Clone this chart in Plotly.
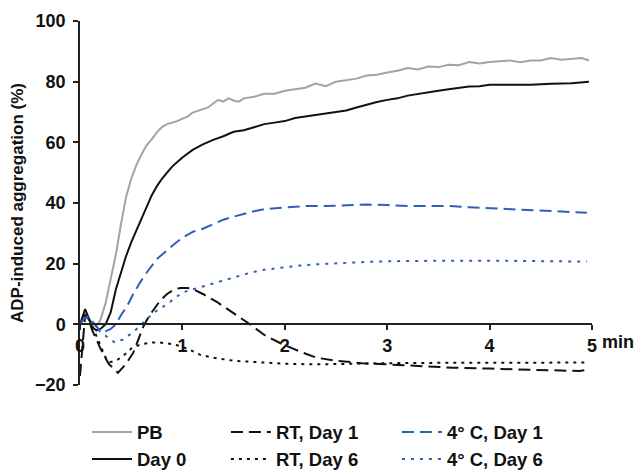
import plotly.graph_objects as go

# ---- data (time in min, aggregation in %) ----
pb_t = [0, 0.03, 0.05, 0.08, 0.12, 0.16, 0.2, 0.25, 0.3, 0.35, 0.4, 0.45, 0.5, 0.55, 0.6, 0.65, 0.7,
        0.75, 0.8, 0.85, 0.9, 0.95, 1.0, 1.05, 1.1, 1.15, 1.2, 1.25, 1.3, 1.35, 1.4, 1.45, 1.5, 1.55,
        1.6, 1.7, 1.8, 1.9, 2.0, 2.1, 2.2, 2.3, 2.4, 2.5, 2.6, 2.7, 2.8, 2.9, 3.0, 3.1, 3.2, 3.3, 3.4,
        3.5, 3.6, 3.7, 3.8, 3.9, 4.0, 4.1, 4.2, 4.3, 4.4, 4.5, 4.6, 4.7, 4.8, 4.9, 4.97]
pb_v = [0, 2.5, 3.2, 2, 0.5, -0.8, 1.5, 7, 15, 23, 33, 42, 48, 52.5, 56, 59, 61, 63.3, 65, 66,
        66.5, 67, 67.8, 68.5, 69.8, 70.3, 71, 71.5, 72.8, 74, 73.4, 74.5, 73.8, 73.4, 74.5, 75,
        76, 76, 77, 77.5, 78, 79.4, 78.5, 80, 80.4, 81, 82, 82.3, 83, 83.6, 84.5, 84, 85, 84.8,
        85.6, 85.4, 86.5, 86, 86.5, 86.8, 87, 86.4, 87, 87, 87.8, 87.2, 87.5, 87.8, 87]

d0_t = [0, 0.03, 0.05, 0.08, 0.12, 0.16, 0.2, 0.25, 0.3, 0.35, 0.4, 0.45, 0.5, 0.55, 0.6, 0.65,
        0.7, 0.75, 0.8, 0.85, 0.9, 0.95, 1.0, 1.1, 1.2, 1.3, 1.4, 1.5, 1.6, 1.7, 1.8, 1.9, 2.0,
        2.1, 2.2, 2.3, 2.4, 2.5, 2.6, 2.7, 2.8, 2.9, 3.0, 3.1, 3.2, 3.3, 3.4, 3.5, 3.6, 3.7, 3.8,
        3.9, 4.0, 4.2, 4.4, 4.6, 4.8, 4.97]
d0_v = [0, 3, 5, 2.5, -1, -2, -1.5, 0, 4, 11.5, 17, 22.5, 27, 31, 35, 39, 42.5, 45.5, 48, 50,
        52, 53.5, 55, 57.5, 59.3, 60.8, 62, 63.5, 64, 65, 66, 66.5, 67, 68, 68.5, 69, 69.5, 70,
        70.5, 71.5, 72.5, 73.3, 74, 74.5, 75.4, 76, 76.4, 77, 77.5, 78, 78.4, 78.5, 79, 79, 79,
        79.3, 79.5, 80]

rt1_t = [0, 0.02, 0.05, 0.08, 0.12, 0.2, 0.28, 0.37, 0.45, 0.52, 0.57, 0.62, 0.67, 0.72, 0.78,
         0.85, 0.92, 0.98, 1.05, 1.11, 1.2, 1.34, 1.5, 1.66, 1.8, 1.98, 2.15, 2.31, 2.5, 2.75,
         3.0, 3.3, 3.64, 4.0, 4.3, 4.6, 4.88, 4.95]
rt1_v = [-17, -8, 3, 2, -2, -8, -13, -16, -13, -9.4, -5, -0.6, 2.5, 5, 7.7, 10, 11.5, 12, 12,
         11.5, 10, 7.3, 3.7, 0, -3.5, -6.6, -9, -11, -12, -12.8, -13.2, -13.8, -14.3, -14.6,
         -14.8, -15, -15.4, -15]

rt6_t = [0, 0.05, 0.1, 0.15, 0.2, 0.25, 0.29, 0.35, 0.42, 0.5, 0.59, 0.7, 0.78, 0.9, 0.98, 1.08,
         1.17, 1.3, 1.5, 1.82, 2.0, 2.31, 2.6, 3.0, 3.5, 4.0, 4.5, 4.95]
rt6_v = [0, 3, 1, -3, -7, -11, -12.5, -12, -10.5, -8, -6.6, -6, -6, -6.5, -7.2, -8.5, -10, -11,
         -12, -12.6, -13, -13.2, -13, -12.8, -12.7, -12.6, -12.6, -12.6]

c1_t = [0, 0.04, 0.08, 0.12, 0.18, 0.23, 0.3, 0.35, 0.4, 0.46, 0.52, 0.59, 0.65, 0.75, 0.85,
        0.94, 1.0, 1.1, 1.2, 1.3, 1.4, 1.5, 1.6, 1.7, 1.8, 1.9, 2.0, 2.2, 2.4, 2.6, 2.8, 3.0, 3.2,
        3.4, 3.6, 3.8, 4.0, 4.2, 4.4, 4.6, 4.8, 4.95]
c1_v = [0, 2, 2.6, 1, -1.5, -2.6, -1.5, 0, 3, 6, 10, 14, 17, 21.5, 24.5, 27, 28.5, 30.5, 31.5,
        33, 34.5, 35.5, 36.5, 37.3, 38, 38.3, 38.6, 39, 39, 39.3, 39.5, 39.3, 39, 39, 39, 38.6,
        38.3, 38, 37.7, 37.4, 37, 36.8]

c6_t = [0, 0.05, 0.1, 0.15, 0.2, 0.26, 0.34, 0.42, 0.52, 0.6, 0.68, 0.76, 0.85, 0.92, 1.0, 1.1,
        1.2, 1.34, 1.5, 1.66, 1.8, 1.98, 2.15, 2.31, 2.5, 2.75, 3.0, 3.3, 3.64, 4.0, 4.3, 4.6,
        4.95]
c6_v = [0, 2.3, 1.5, -0.5, -2.5, -4, -6, -5, -2.6, 0, 2.6, 4.8, 6.6, 8.5, 10.5, 11.5, 12.5, 13.8,
        15.5, 17, 18, 18.8, 19.4, 19.8, 20.2, 20.5, 20.8, 21, 21, 21, 21, 20.8, 20.7]

x_ticks = [0, 1, 2, 3, 4, 5]
x_ticktext = ["0", "1", "2", "3", "4", "5"]
y_ticks = [-20, 0, 20, 40, 60, 80, 100]

GRAY = "#a3a3a3"
BLACK = "#111111"
BLUE = "#2f5fb8"
FONT = "Liberation Sans, Arial, sans-serif"

fig = go.Figure()
fig.add_trace(go.Scatter(x=pb_t, y=pb_v, mode="lines", name="PB",
                         line=dict(color=GRAY, width=2), legend="legend"))
fig.add_trace(go.Scatter(x=d0_t, y=d0_v, mode="lines", name="Day 0",
                         line=dict(color=BLACK, width=2), legend="legend"))
fig.add_trace(go.Scatter(x=rt1_t, y=rt1_v, mode="lines", name="RT, Day 1",
                         line=dict(color=BLACK, width=2, dash="12px,6px"), legend="legend2"))
fig.add_trace(go.Scatter(x=rt6_t, y=rt6_v, mode="lines", name="RT, Day 6",
                         line=dict(color=BLACK, width=2, dash="3px,5px"), legend="legend2"))
fig.add_trace(go.Scatter(x=c1_t, y=c1_v, mode="lines", name="4° C, Day 1",
                         line=dict(color=BLUE, width=2, dash="12px,6px"), legend="legend3"))
fig.add_trace(go.Scatter(x=c6_t, y=c6_v, mode="lines", name="4° C, Day 6",
                         line=dict(color=BLUE, width=2, dash="3px,6px"), legend="legend3"))

leg_common = dict(orientation="v", yanchor="top", y=-0.078, bgcolor="rgba(0,0,0,0)",
                  font=dict(family=FONT, size=18.5, color="#111", weight="bold"),
                  tracegroupgap=0, itemwidth=40)

# page has an 8px body margin: figure is sized/offset to fit the 642x475 window
fig.update_layout(
    width=634, height=467,
    margin=dict(l=72, r=50, t=13, b=90, autoexpand=False),
    paper_bgcolor="white", plot_bgcolor="white",
    font=dict(family=FONT, color="#111"),
    xaxis=dict(range=[0, 5], tickvals=x_ticks, ticktext=x_ticktext, automargin=False,
               showgrid=False, zeroline=False, showline=True, linecolor="#222", linewidth=1.5,
               ticks="outside", ticklen=5, tickcolor="#222", tickwidth=1.5,
               anchor="free", position=20 / 120,
               tickfont=dict(family=FONT, size=18, color="#111", weight="bold")),
    yaxis=dict(range=[-20, 100], tickvals=y_ticks, showgrid=False, zeroline=False,
               automargin=False, ticklabelstandoff=4,
               showline=True, linecolor="#222", linewidth=1.5,
               ticks="outside", ticklen=5, tickcolor="#222", tickwidth=1.5,
               tickfont=dict(family=FONT, size=18, color="#111", weight="bold"),
               title=dict(text="ADP-induced aggregation (%)", standoff=8,
                          font=dict(family=FONT, size=17, color="#111", weight="bold"))),
    legend=dict(x=0.0137, **leg_common),
    legend2=dict(x=0.285, **leg_common),
    legend3=dict(x=0.619, **leg_common),
)

fig.add_annotation(x=5, y=0, xref="x", yref="y", text="min", showarrow=False,
                   xanchor="left", yanchor="top", xshift=8, yshift=-6,
                   font=dict(family=FONT, size=18, color="#111", weight="bold"))

fig.write_html("out.html")
